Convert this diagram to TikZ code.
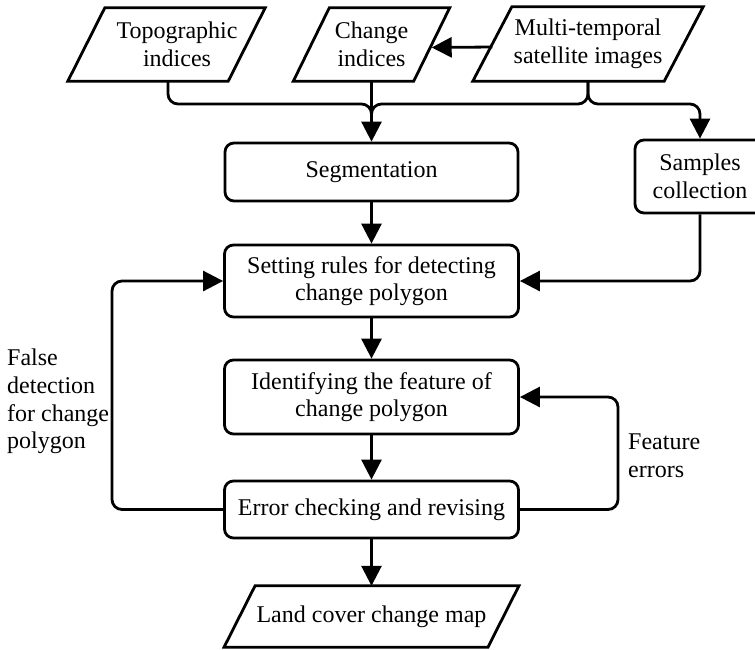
\documentclass[tikz,border=0pt]{standalone}
\usepackage{fontspec}
\setmainfont{Liberation Serif}
\usetikzlibrary{arrows.meta,calc}
\newcommand{\myfs}{\fontsize{24pt}{27.7pt}\selectfont}
\newcommand{\drawpara}[3]{%
  \draw[line, line join=miter]
    ([xshift=#3pt-#2pt]#1.south west) -- ([xshift=#3pt-#2pt]#1.south east) --
    ([xshift=#3pt+#2pt]#1.north east) -- ([xshift=#3pt+#2pt]#1.north west) -- cycle;}
\begin{document}
\begin{tikzpicture}[x=1pt,y=-1pt,
  line/.style={line width=2.8pt},
  arr/.style={line, -{Triangle[length=20pt,width=20pt]}},
  box/.style={draw, line width=2.8pt, rounded corners=9pt, align=center, inner sep=0pt, font=\myfs},
  io/.style={inner sep=0pt, align=center, font=\myfs},
  lbl/.style={inner sep=0pt, align=left, font=\myfs}]
\useasboundingbox (0,0) rectangle (755,649);
\clip (0,0) rectangle (755,649);

% input / output parallelograms
\node[io, minimum width=160pt, minimum height=73pt] (topo) at (177,44.5) {Topographic\\indices};
\drawpara{topo}{18.5}{-10.5}
\node[io, minimum width=120pt, minimum height=73pt] (chg) at (371.5,44.5) {Change\\indices};
\drawpara{chg}{18}{0}
\node[io, minimum width=191pt, minimum height=74pt] (multi) at (588,44) {Multi-temporal\\satellite images};
\drawpara{multi}{19.5}{0}
\node[io, minimum width=263.5pt, minimum height=61pt] (land) at (371.5,616.5) {Land cover change map};
\drawpara{land}{15.5}{0}

% process boxes
\node[box, minimum width=293pt, minimum height=58pt] (seg) at (371.5,172) {Segmentation};
\node[box, minimum width=130pt, minimum height=73pt] (smp) at (700,176.5) {Samples\\collection};
\node[box, minimum width=294pt, minimum height=72pt] (set) at (371.5,281) {Setting rules for detecting\\change polygon};
\node[box, minimum width=294pt, minimum height=74pt] (idf) at (371.5,397) {Identifying the feature of\\change polygon};
\node[box, minimum width=294pt, minimum height=57pt] (err) at (371.5,509.5) {Error checking and revising};

% labels
\node[lbl, anchor=north west] (fd) at (7,349) {False\\detection\\for change\\polygon};
\node[lbl, anchor=north west] (fe) at (628,434) {Feature\\errors};

% helper coordinates
\coordinate (bus) at (0,104);
\coordinate (lx) at (112,0);
\coordinate (rx) at (618,0);

% connectors
\draw[arr] ([yshift=-3pt]multi.west) -- ([yshift=-3pt]chg.east);
\draw[line, rounded corners=10pt] ([xshift=-9pt]topo.south) |- (bus -| seg.north) -- ++(0,15);
\draw[line, rounded corners=10pt] (multi.south) |- (bus -| seg.north) -- ++(0,15);
\draw[arr, rounded corners=10pt] (multi.south) |- (bus -| smp.north) -- (smp.north);
\draw[arr] (chg.south) -- (seg.north);
\draw[arr] (seg.south) -- (set.north);
\draw[arr, rounded corners=10pt] (smp.south) |- (set.east);
\draw[arr] (set.south) -- (idf.north);
\draw[arr] (idf.south) -- (err.north);
\draw[arr] (err.south) -- (land.north);
\draw[arr, rounded corners=10pt] (err.west) -- (err.west -| lx) -- (set.west -| lx) -- (set.west);
\draw[arr, rounded corners=10pt] (err.east) -- (err.east -| rx) -- (idf.east -| rx) -- (idf.east);
\end{tikzpicture}
\end{document}
